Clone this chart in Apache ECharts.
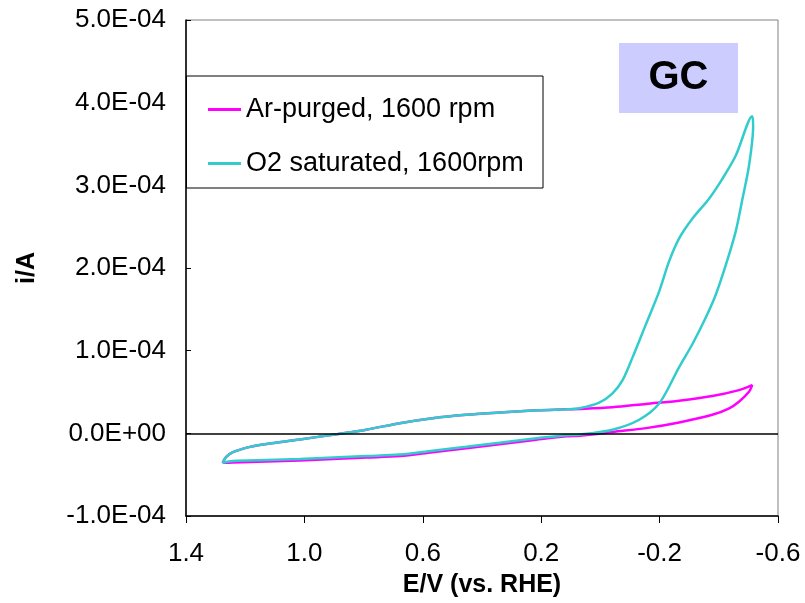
<!DOCTYPE html>
<html>
<head>
<meta charset="utf-8">
<script src="https://cdn.jsdelivr.net/npm/echarts@6/dist/echarts.min.js"></script>
<style>
  html, body { margin: 0; padding: 0; background: #fff; }
  #chart { width: 805px; height: 603px; }
</style>
</head>
<body>
<div id="chart"></div>
<script>
// Ar-purged loop: potential (V vs RHE) and current (A)
const arPotential = [1.276, 1.265, 1.2415, 1.184, 1.128, 1.0155, 0.904, 0.791, 0.678, 0.567, 0.453, 0.340, 0.229, 0.116, 0.071,
    -0.041, -0.154, -0.266, -0.378, -0.468, -0.513, -0.502, -0.468, -0.435, -0.378, -0.266, -0.154, -0.041, 0.004, 0.071,
    0.116, 0.230, 0.341, 0.453, 0.567, 0.678, 0.791, 0.903, 1.0155, 1.128, 1.2415, 1.276];
const arCurrent = [-3.56e-5, -2.87e-5, -2.28e-5, -1.64e-5, -1.28e-5, -0.75e-5, -0.16e-5, 0.44e-5, 1.23e-5, 1.83e-5, 2.24e-5, 2.51e-5, 2.75e-5, 2.91e-5, 2.95e-5,
    3.15e-5, 3.56e-5, 3.95e-5, 4.51e-5, 5.23e-5, 5.83e-5, 5.03e-5, 3.83e-5, 3.03e-5, 2.24e-5, 1.32e-5, 0.63e-5, 0.16e-5, -0.06e-5, -0.28e-5,
    -0.36e-5, -0.84e-5, -1.32e-5, -1.80e-5, -2.28e-5, -2.75e-5, -2.93e-5, -3.11e-5, -3.29e-5, -3.41e-5, -3.53e-5, -3.56e-5];

// O2 saturated loop
const o2Potential = [1.276, 1.265, 1.2415, 1.184, 1.128, 1.0155, 0.904, 0.791, 0.678, 0.567, 0.453, 0.340, 0.229, 0.116, 0.071,
    0.004, -0.041, -0.075, -0.109, -0.154, -0.199, -0.232, -0.266, -0.311, -0.367, -0.412, -0.457, -0.513,
    -0.516, -0.502, -0.480, -0.457, -0.424, -0.390, -0.356, -0.311, -0.266, -0.199, -0.131, -0.041, 0.071,
    0.116, 0.230, 0.341, 0.453, 0.567, 0.678, 0.791, 0.903, 1.0155, 1.128, 1.2415, 1.276];
const o2Current = [-3.56e-5, -2.87e-5, -2.28e-5, -1.64e-5, -1.28e-5, -0.75e-5, -0.16e-5, 0.44e-5, 1.23e-5, 1.83e-5, 2.24e-5, 2.51e-5, 2.75e-5, 2.91e-5, 3.03e-5,
    3.71e-5, 4.83e-5, 6.43e-5, 9.22e-5, 1.321e-4, 1.721e-4, 2.080e-4, 2.359e-4, 2.599e-4, 2.838e-4, 3.078e-4, 3.357e-4, 3.836e-4,
    3.716e-4, 3.237e-4, 2.838e-4, 2.440e-4, 2.040e-4, 1.680e-4, 1.401e-4, 1.081e-4, 8.02e-5, 3.63e-5, 1.64e-5, 0.44e-5, -0.16e-5,
    -0.24e-5, -0.66e-5, -1.14e-5, -1.62e-5, -2.10e-5, -2.57e-5, -2.75e-5, -2.93e-5, -3.11e-5, -3.23e-5, -3.35e-5, -3.56e-5];

const seriesNames = ['Ar-purged, 1600 rpm', 'O2 saturated, 1600rpm'];
const seriesColors = ['#ff00ff', '#33cccc'];

const FONT = '"Liberation Sans", Arial, sans-serif';

function sciLabel(v) {
    if (Math.abs(v) < 1e-12) return '0.0E+00';
    const parts = v.toExponential(1).split('e');
    const n = parseInt(parts[1], 10);
    return parts[0] + 'E' + (n < 0 ? '-' : '+') + String(Math.abs(n)).padStart(2, '0');
}

const pairs = (xs, ys) => xs.map((x, i) => [x, ys[i]]);

const chart = echarts.init(document.getElementById('chart'));

chart.setOption({
    animation: false,
    backgroundColor: '#fff',
    textStyle: { fontFamily: FONT },
    grid: {
        left: 186, right: 27, top: 20, bottom: 82,
        show: true, borderColor: '#808080', borderWidth: 1
    },
    xAxis: {
        type: 'value',
        inverse: true,
        min: -0.6, max: 1.4, interval: 0.4,
        name: 'E/V (vs. RHE)',
        nameLocation: 'middle',
        nameGap: 57,
        nameTextStyle: { fontSize: 25, fontWeight: 'bold', color: '#000', fontFamily: FONT },
        axisLine: { onZero: false, lineStyle: { color: '#000', width: 1.5 } },
        axisTick: { inside: false, length: 7, lineStyle: { color: '#000' } },
        axisLabel: { fontSize: 26, color: '#000', margin: 25, formatter: v => v.toFixed(1) },
        splitLine: { show: false }
    },
    yAxis: {
        type: 'value',
        min: -1e-4, max: 5e-4, interval: 1e-4,
        name: 'i/A',
        nameLocation: 'middle',
        nameGap: 146,
        nameTextStyle: { fontSize: 25, fontWeight: 'bold', color: '#000', fontFamily: FONT },
        axisLine: { onZero: false, lineStyle: { color: '#000', width: 1.5 } },
        axisTick: { inside: true, length: 5, lineStyle: { color: '#000' } },
        axisLabel: { fontSize: 26, color: '#000', margin: 20, formatter: sciLabel },
        splitLine: { show: false }
    },
    legend: {
        orient: 'vertical',
        left: 203, top: 91,
        z: 10,
        icon: 'rect',
        itemWidth: 33, itemHeight: 3,
        itemGap: 27,
        textStyle: { fontSize: 27, color: '#000', fontFamily: FONT },
        data: seriesNames
    },
    graphic: [
        {
            type: 'rect', z: 5,
            shape: { x: 186.5, y: 76, width: 356.5, height: 112 },
            style: { fill: '#fff', stroke: '#000', lineWidth: 1 }
        },
        {
            type: 'rect', z: 5,
            shape: { x: 619, y: 43, width: 119, height: 70 },
            style: { fill: '#ccccff' }
        },
        {
            type: 'text', z: 6,
            x: 678.5, y: 78,
            style: {
                text: 'GC', fill: '#000', font: 'bold 40px ' + FONT,
                textAlign: 'center', textVerticalAlign: 'middle'
            }
        }
    ],
    series: [
        {
            name: seriesNames[0],
            type: 'line',
            data: pairs(arPotential, arCurrent),
            showSymbol: false,
            smooth: 0.3,
            color: seriesColors[0],
            lineStyle: { width: 2.5, color: seriesColors[0] },
            markLine: {
                silent: true,
                symbol: 'none',
                label: { show: false },
                lineStyle: { color: '#000', width: 1.5, type: 'solid' },
                data: [{ yAxis: 0 }]
            }
        },
        {
            name: seriesNames[1],
            type: 'line',
            data: pairs(o2Potential, o2Current),
            showSymbol: false,
            smooth: 0.3,
            color: seriesColors[1],
            lineStyle: { width: 2.5, color: seriesColors[1] }
        }
    ]
});
</script>
</body>
</html>
